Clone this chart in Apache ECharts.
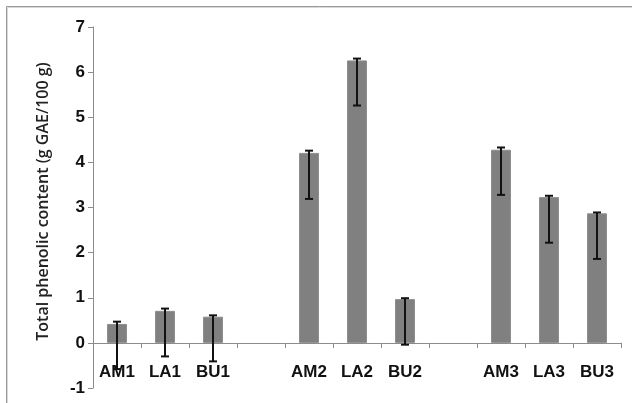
<!DOCTYPE html>
<html><head><meta charset="utf-8">
<script src="https://cdn.jsdelivr.net/npm/echarts@6/dist/echarts.min.js"></script>
<style>html,body{margin:0;padding:0;background:#fff}#c{width:632px;height:403px}</style>
</head><body><div id="c"></div>
<script>
var categories = ['AM1','LA1','BU1','','AM2','LA2','BU2','','AM3','LA3','BU3'];
var values     = [0.42, 0.71, 0.58, null, 4.21, 6.26, 0.97, null, 4.28, 3.23, 2.87];
var errUp      = [0.05, 0.05, 0.03, null, 0.05, 0.04, 0.02, null, 0.05, 0.03, 0.02];
var errDown    = [1.00, 1.01, 0.99, null, 1.02, 1.00, 1.01, null, 1.00, 1.01, 1.01];
var yTicks = {min: -1, max: 7, interval: 1};
var yTitle = 'Total phenolic content (g GAE/100 g)';

var errData = [];
values.forEach(function(v, i){
  if (v == null) return;
  errData.push([i, v - errDown[i], v + errUp[i]]);
});

var chart = echarts.init(document.getElementById('c'));
chart.setOption({
  animation: false,
  graphic: [
    {type:'rect', shape:{x:7.5,y:7.5,width:640,height:410}, style:{fill:'none', stroke:'#d8d8d8', lineWidth:1}, silent:true},
    {type:'rect', shape:{x:6.5,y:6.5,width:640,height:410}, style:{fill:'none', stroke:'#9a9a9a', lineWidth:1}, silent:true}
  ],
  grid: {left: 93, right: 11, top: 27, bottom: 15, containLabel: false, outerBoundsMode: 'none'},
  xAxis: {
    type: 'category', data: categories,
    axisLine: {onZero: true, lineStyle: {color: '#8c8c8c', width: 1}},
    axisTick: {show: true, alignWithLabel: false, length: 5, lineStyle: {color: '#8c8c8c'}},
    axisLabel: {interval: 0, margin: -24, color: '#111', fontFamily: 'Liberation Sans', fontWeight: 'bold', fontSize: 17}
  },
  yAxis: {
    type: 'value', min: yTicks.min, max: yTicks.max, interval: yTicks.interval,
    name: yTitle, nameLocation: 'middle', nameGap: 42, nameRotate: 90,
    nameTextStyle: {fontFamily: 'Open Sans', fontWeight: 600, fontSize: 16, color: '#222', padding: [0, 0, 0, 12]},
    splitLine: {show: false},
    axisLine: {show: true, lineStyle: {color: '#8c8c8c'}},
    axisTick: {show: true, length: 5, lineStyle: {color: '#8c8c8c'}},
    axisLabel: {margin: 8, color: '#111', fontFamily: 'Liberation Sans', fontWeight: 'bold', fontSize: 17}
  },
  series: [{
    type: 'bar', data: values, barWidth: 20,
    itemStyle: {color: '#808080', borderColor: '#8e8e8e', borderWidth: 1}
  }, {
    type: 'custom', data: errData, z: 5,
    encode: {x: 0, y: [1, 2]},
    renderItem: function(params, api){
      var lo = api.coord([api.value(0), api.value(1)]);
      var hi = api.coord([api.value(0), api.value(2)]);
      var hw = 4;
      var st = {stroke: '#111', lineWidth: 2};
      return {type: 'group', children: [
        {type: 'line', shape: {x1: lo[0], y1: lo[1], x2: hi[0], y2: hi[1]}, style: st},
        {type: 'line', shape: {x1: lo[0]-hw, y1: lo[1], x2: lo[0]+hw, y2: lo[1]}, style: st},
        {type: 'line', shape: {x1: hi[0]-hw, y1: hi[1], x2: hi[0]+hw, y2: hi[1]}, style: st}
      ]};
    }
  }]
});
</script></body></html>
